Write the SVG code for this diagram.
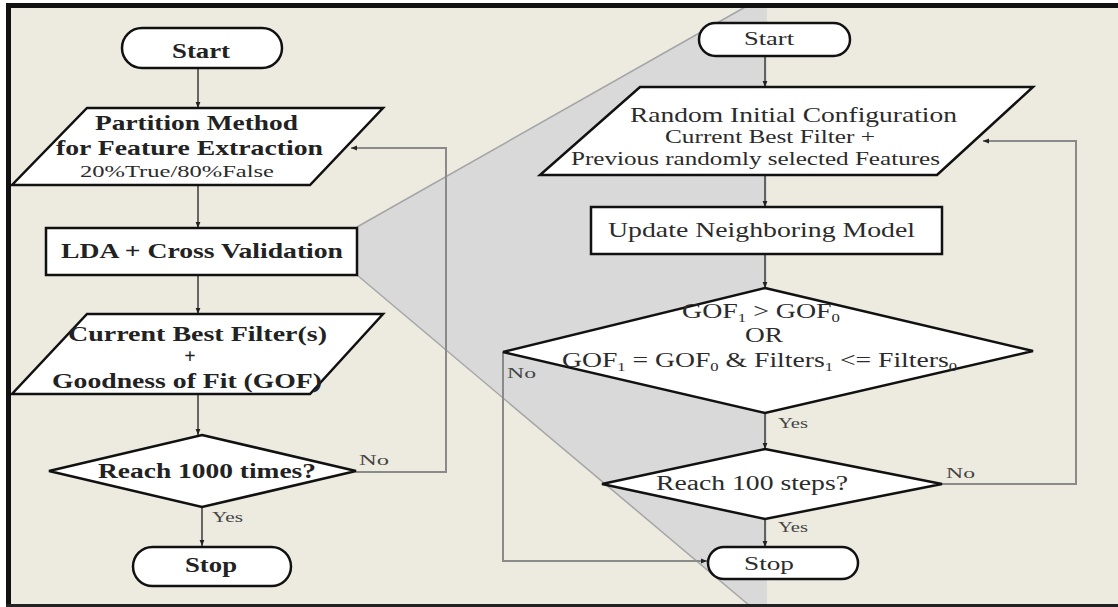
<svg xmlns="http://www.w3.org/2000/svg" width="1118" height="607" viewBox="0 0 1118 607">
<style>
.node{fill:#fff;stroke:#111;stroke-width:2.5}
.c{fill:none;stroke:#3a3a3a;stroke-width:1.5}
.loop{fill:none;stroke:#8a8a8a;stroke-width:2}
.b{font-family:"Liberation Serif","Times New Roman",serif;font-weight:bold;fill:#222}
.n{font-family:"Liberation Serif","Times New Roman",serif;fill:#2b2b2b}
.lbl{font-family:"Liberation Serif","Times New Roman",serif;fill:#444;font-size:15px}
</style>
<defs>
<marker id="ah" viewBox="0 0 10 10" refX="10" refY="5" markerWidth="6" markerHeight="6" orient="auto" markerUnits="userSpaceOnUse">
<path d="M0,1 L10,5 L0,9 Z" fill="#222"/>
</marker>
</defs>
<rect x="0" y="0" width="1118" height="607" fill="#fff"/>
<rect x="9" y="6" width="1109" height="600" fill="#EDEAE0"/>
<g id="wedge">
<polygon points="357,227 747,6 767,6 767,606 750,606 357,275" fill="#D9D9D9"/>
<line x1="357" y1="227" x2="747" y2="6" stroke="#A5A5A5" stroke-width="1.5"/>
<line x1="357" y1="275" x2="750" y2="606" stroke="#A5A5A5" stroke-width="1.5"/>
</g>
<g id="frame">
<rect x="6" y="3" width="1112" height="5" fill="#111"/>
<rect x="6" y="3" width="5" height="604" fill="#111"/>
<rect x="6" y="604" width="1112" height="3" fill="#222"/>
</g>
<g id="connectors">
<line class="c" x1="198" y1="68" x2="198" y2="108" marker-end="url(#ah)"/>
<line class="c" x1="198" y1="185" x2="198" y2="228" marker-end="url(#ah)"/>
<line class="c" x1="198" y1="275" x2="198" y2="314" marker-end="url(#ah)"/>
<line class="c" x1="198" y1="394" x2="198" y2="435" marker-end="url(#ah)"/>
<line class="c" x1="202" y1="507" x2="202" y2="546" marker-end="url(#ah)"/>
<polyline class="loop" points="356,472 446,472 446,148 351,148" marker-end="url(#ah)"/>
<line class="c" x1="765" y1="56" x2="765" y2="87" marker-end="url(#ah)"/>
<line class="c" x1="765" y1="175" x2="765" y2="207" marker-end="url(#ah)"/>
<line class="c" x1="765" y1="254" x2="765" y2="288" marker-end="url(#ah)"/>
<line class="c" x1="765" y1="413" x2="765" y2="449" marker-end="url(#ah)"/>
<line class="c" x1="765" y1="519" x2="765" y2="547" marker-end="url(#ah)"/>
<polyline class="loop" points="503,352 503,561 707,561" marker-end="url(#ah)"/>
<polyline class="loop" points="942,484 1076,484 1076,141 983,141" marker-end="url(#ah)"/>
<text class="lbl" x="359" y="465" textLength="30" lengthAdjust="spacingAndGlyphs">No</text>
<text class="lbl" x="212" y="522" textLength="31" lengthAdjust="spacingAndGlyphs">Yes</text>
<text class="lbl" x="507" y="378" textLength="29" lengthAdjust="spacingAndGlyphs">No</text>
<text class="lbl" x="778" y="428" textLength="30" lengthAdjust="spacingAndGlyphs">Yes</text>
<text class="lbl" x="946" y="478" textLength="29" lengthAdjust="spacingAndGlyphs">No</text>
<text class="lbl" x="778" y="532" textLength="30" lengthAdjust="spacingAndGlyphs">Yes</text>
</g>
<g id="L_start">
<rect class="node" x="122" y="28" width="160" height="40" rx="20"/>
<text class="b" x="172" y="58" font-size="20" textLength="58" lengthAdjust="spacingAndGlyphs">Start</text>
</g>
<g id="L_partition">
<polygon class="node" points="87,108 383,108 310,185 12,185"/>
<text class="b" x="95" y="130" font-size="21" textLength="203" lengthAdjust="spacingAndGlyphs">Partition Method</text>
<text class="b" x="56" y="155" font-size="21" textLength="267" lengthAdjust="spacingAndGlyphs">for Feature Extraction</text>
<text class="n" x="80" y="177" font-size="17" fill="#555" textLength="194" lengthAdjust="spacingAndGlyphs">20%True/80%False</text>
</g>
<g id="L_lda">
<rect class="node" x="46" y="228" width="311" height="47"/>
<text class="b" x="61" y="258" font-size="21" textLength="282" lengthAdjust="spacingAndGlyphs">LDA + Cross Validation</text>
</g>
<g id="L_best">
<polygon class="node" points="87,314 383,314 310,394 12,394"/>
<text class="b" x="68" y="341" font-size="21" textLength="259" lengthAdjust="spacingAndGlyphs">Current Best Filter(s)</text>
<text class="b" x="190" y="363" font-size="20" text-anchor="middle">+</text>
<text class="b" x="52" y="388" font-size="21" textLength="270" lengthAdjust="spacingAndGlyphs">Goodness of Fit (GOF)</text>
</g>
<g id="L_reach">
<polygon class="node" points="202,435 356,471 202,507 49,471"/>
<text class="b" x="98" y="478" font-size="20" textLength="218" lengthAdjust="spacingAndGlyphs">Reach 1000 times?</text>
</g>
<g id="L_stop">
<rect class="node" x="133" y="547" width="158" height="39" rx="19.5"/>
<text class="b" x="185" y="572" font-size="20" textLength="52" lengthAdjust="spacingAndGlyphs">Stop</text>
</g>
<g id="R_start">
<rect class="node" x="699" y="23" width="151" height="33" rx="16.5"/>
<text class="n" x="744" y="45" font-size="19" textLength="50" lengthAdjust="spacingAndGlyphs">Start</text>
</g>
<g id="R_random">
<polygon class="node" points="640,87 1033,87 937,175 540,175"/>
<text class="n" x="630" y="122" font-size="21" textLength="327" lengthAdjust="spacingAndGlyphs">Random Initial Configuration</text>
<text class="n" x="665" y="143" font-size="18" textLength="210" lengthAdjust="spacingAndGlyphs">Current Best Filter  +</text>
<text class="n" x="571" y="165" font-size="18" textLength="369" lengthAdjust="spacingAndGlyphs">Previous randomly selected  Features</text>
</g>
<g id="R_update">
<rect class="node" x="591" y="207" width="351" height="47"/>
<text class="n" x="608" y="237" font-size="21" textLength="307" lengthAdjust="spacingAndGlyphs">Update Neighboring Model</text>
</g>
<g id="R_gof">
<polygon class="node" points="765,288 1033,351 765,413 503,352"/>
<text class="n" x="682" y="318" font-size="20" textLength="158" lengthAdjust="spacingAndGlyphs">GOF<tspan font-size="12" dy="4">1</tspan><tspan dy="-4"> &gt; GOF</tspan><tspan font-size="12" dy="4">0</tspan></text>
<text class="n" x="745" y="342" font-size="20" textLength="38" lengthAdjust="spacingAndGlyphs">OR</text>
<text class="n" x="562" y="367" font-size="20" textLength="395" lengthAdjust="spacingAndGlyphs">GOF<tspan font-size="12" dy="4">1</tspan><tspan dy="-4"> = GOF</tspan><tspan font-size="12" dy="4">0</tspan><tspan dy="-4"> &amp; Filters</tspan><tspan font-size="12" dy="4">1</tspan><tspan dy="-4"> &lt;= Filters</tspan><tspan font-size="12" dy="4">0</tspan></text>
</g>
<g id="R_reach">
<polygon class="node" points="765,449 942,484 765,519 602,484"/>
<text class="n" x="656" y="490" font-size="20" textLength="192" lengthAdjust="spacingAndGlyphs">Reach 100 steps?</text>
</g>
<g id="R_stop">
<rect class="node" x="708" y="547" width="150" height="32" rx="16"/>
<text class="n" x="744" y="570" font-size="19" textLength="50" lengthAdjust="spacingAndGlyphs">Stop</text>
</g>
</svg>
